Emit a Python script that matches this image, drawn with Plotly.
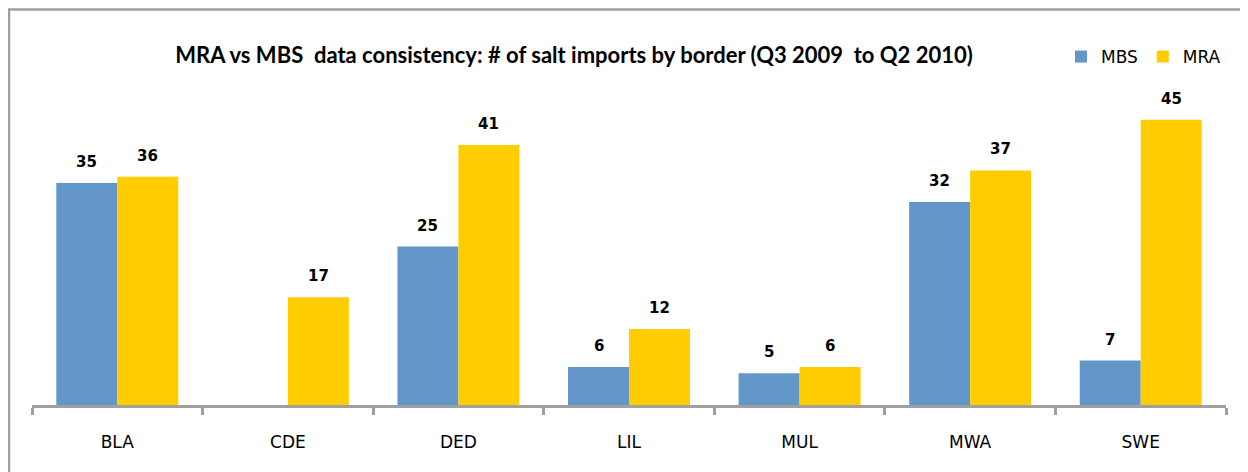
import plotly.graph_objects as go

categories = ["BLA", "CDE", "DED", "LIL", "MUL", "MWA", "SWE"]
mbs = [35, None, 25, 6, 5, 32, 7]
mra = [36, 17, 41, 12, 6, 37, 45]

BLUE = "#6397CA"
YELLOW = "#FFCC00"
GRAY = "#A0A0A0"

# page body has an 8px margin; coordinates below are figure-relative
OFF = 8
W, H = 1248, 472
ml, mr, mt, mb = 32 - OFF, 22 + OFF, 88 - OFF, 67 + OFF
PW, PH = W - ml - mr, H - mt - mb

fig = go.Figure()
fig.add_trace(go.Bar(name="MBS", x=categories, y=mbs, marker=dict(color=BLUE, line=dict(width=0))))
fig.add_trace(go.Bar(name="MRA", x=categories, y=mra, marker=dict(color=YELLOW, line=dict(width=0))))

cat_px = PW / len(categories)
bargap = 0.285
half = cat_px * (1 - bargap) / 4
for series, shift in ((mbs, -half), (mra, half)):
    for c, v in zip(categories, series):
        if v is None:
            continue
        fig.add_annotation(x=c, y=v, text=f"<b>{v}</b>", showarrow=False, xshift=shift,
                           yanchor="bottom", yshift=10,
                           font=dict(family="DejaVu Sans", size=15, color="#000000"))

fig.update_layout(
    width=W, height=H,
    margin=dict(l=ml, r=mr, t=mt, b=mb),
    paper_bgcolor="white", plot_bgcolor="white",
    barmode="group", bargap=bargap, bargroupgap=0,
    title=dict(text="<b>MRA vs MBS  data consistency: # of salt imports by border (Q3 2009  to Q2 2010)</b>",
               x=(574 - OFF) / W, xanchor="center", y=1 - (55 - OFF) / H, yanchor="middle",
               font=dict(family="Lato", size=22, color="#000000")),
    legend=dict(orientation="h", x=1, xanchor="right", y=1 + (88 - 57) / PH, yanchor="middle",
                font=dict(family="DejaVu Sans", size=17, color="#000000"),
                itemwidth=30, traceorder="normal"),
    xaxis=dict(type="category", showline=True, linecolor=GRAY, linewidth=3,
               ticks="outside", tickson="boundaries", ticklen=7, tickcolor=GRAY, tickwidth=3,
               ticklabelstandoff=20,
               showgrid=False, tickfont=dict(family="DejaVu Sans", size=17, color="#000000"),
               fixedrange=True),
    yaxis=dict(range=[0, 50], visible=False, showgrid=False, fixedrange=True),
    shapes=[dict(type="rect", xref="paper", yref="paper",
                 x0=(9 - 32) / PW, x1=(1260 - 32) / PW,
                 y0=-(490 - 405) / PH, y1=1 + (88 - 9.5) / PH,
                 line=dict(color=GRAY, width=2.5), fillcolor="rgba(0,0,0,0)", layer="below")],
)

fig.write_html("out.html")
